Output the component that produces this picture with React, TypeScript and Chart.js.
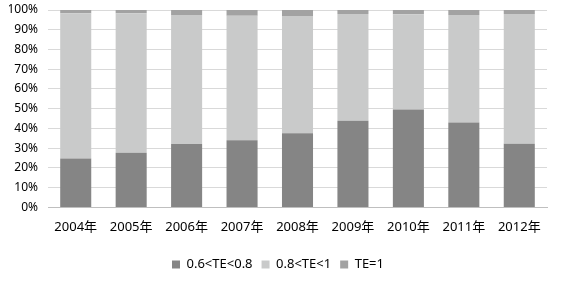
import React, { useEffect, useRef } from "react";
import { Chart, registerables } from "chart.js";

Chart.register(...registerables);

const categories = ["2004年", "2005年", "2006年", "2007年", "2008年", "2009年", "2010年", "2011年", "2012年"];
const lowTE = [24.8, 27.7, 32.1, 34.0, 37.6, 43.9, 49.6, 43.0, 32.3];
const teOne = [1.7, 1.7, 2.5, 2.9, 3.0, 2.0, 2.2, 2.5, 2.0];
const midTE = lowTE.map((v, i) => +(100 - v - teOne[i]).toFixed(1));
const seriesNames = ["0.6<TE<0.8", "0.8<TE<1", "TE=1"];
const yTicks = [0, 10, 20, 30, 40, 50, 60, 70, 80, 90, 100];

const FONT = "'Noto Sans', 'Noto Sans CJK SC', sans-serif";

export default function App() {
  const ref = useRef<HTMLCanvasElement>(null);
  useEffect(() => {
    document.body.style.margin = "0";
    const ctx = ref.current!.getContext("2d")!;
    const chart = new Chart(ctx, {
      type: "bar",
      data: {
        labels: categories,
        datasets: [
          { label: seriesNames[0], data: lowTE, backgroundColor: "#858585", barPercentage: 0.56, categoryPercentage: 1 },
          { label: seriesNames[1], data: midTE, backgroundColor: "#c9caca", barPercentage: 0.56, categoryPercentage: 1 },
          { label: seriesNames[2], data: teOne, backgroundColor: "#a2a2a2", barPercentage: 0.56, categoryPercentage: 1 },
        ],
      },
      options: {
        animation: false,
        responsive: false,
        layout: { padding: { left: 9, right: 25, top: 10, bottom: 3 } },
        plugins: {
          legend: {
            position: "bottom",
            labels: {
              boxWidth: 8,
              boxHeight: 8,
              padding: 9,
              color: "#000",
              font: { family: FONT, size: 13 },
            },
          },
          tooltip: { enabled: false },
        },
        scales: {
          x: {
            stacked: true,
            grid: { display: false },
            border: { display: true, color: "#bfbfbf", width: 1 },
            ticks: { color: "#000", font: { family: FONT, size: 13 }, padding: 4 },
            afterFit: (scale: any) => {
              scale.height += 10;
            },
          },
          y: {
            stacked: true,
            min: 0,
            max: 100,
            afterBuildTicks: (scale: any) => {
              scale.ticks = yTicks.map((v) => ({ value: v }));
            },
            afterFit: (scale: any) => {
              scale.width = 39;
              scale.paddingTop = 0;
            },
            grid: { color: "#d9d9d9", drawTicks: false },
            border: { display: false },
            ticks: {
              color: "#000",
              font: { family: FONT, size: 12 },
              padding: 10,
              callback: (v: any) => v + "%",
            },
          },
        },
      },
    });
    return () => chart.destroy();
  }, []);
  return (
    <div style={{ width: 572, height: 284 }}>
      <canvas ref={ref} width={572} height={284} style={{ display: "block" }} />
    </div>
  );
}
